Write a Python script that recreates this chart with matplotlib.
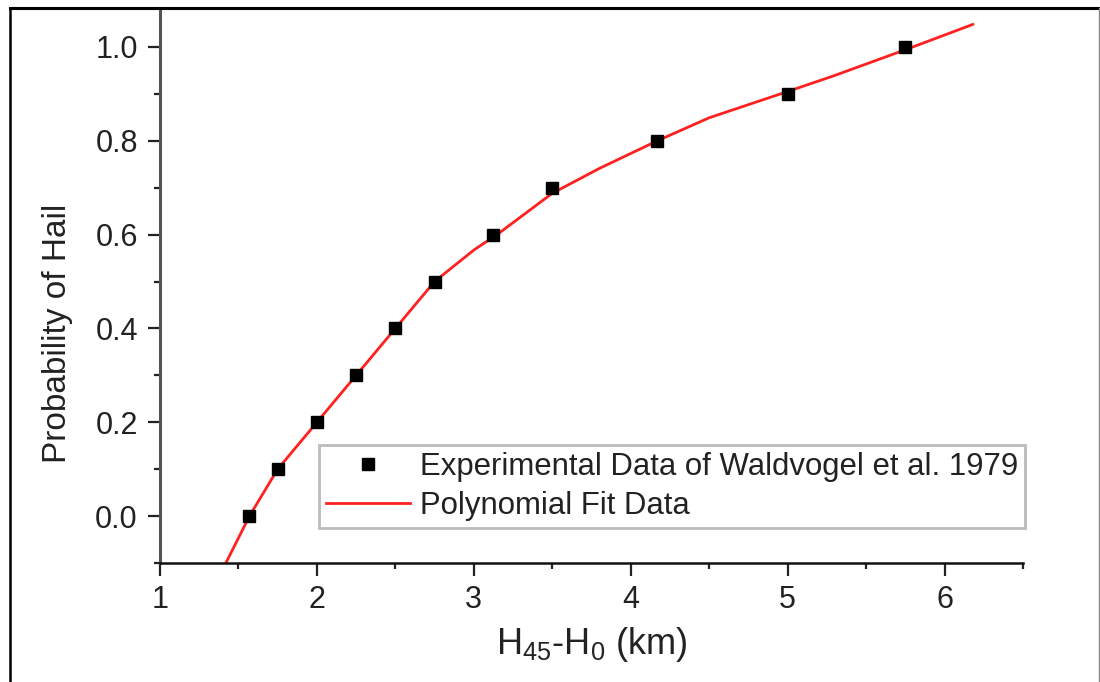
import matplotlib
matplotlib.use("Agg")
import matplotlib.pyplot as plt
from matplotlib.ticker import MultipleLocator
from matplotlib.lines import Line2D

plt.rcParams['font.family'] = ['Liberation Sans', 'DejaVu Sans']
plt.rcParams['mathtext.default'] = 'regular'

# Experimental data (Waldvogel et al. 1979)
exp_x = [1.57, 1.75, 2.0, 2.25, 2.5, 2.75, 3.12, 3.5, 4.17, 5.0, 5.75]
exp_y = [0.0, 0.1, 0.2, 0.3, 0.4, 0.5, 0.6, 0.7, 0.8, 0.9, 1.0]

# Polynomial fit curve
fit_x = [1.42, 1.57, 1.75, 2.0, 2.25, 2.5, 2.75, 3.0, 3.16, 3.5, 3.8, 4.17, 4.5, 5.0, 5.29, 5.75, 6.18]
fit_y = [-0.1, 0.0, 0.1, 0.2, 0.3, 0.4, 0.5, 0.567, 0.603, 0.688, 0.741, 0.80, 0.849, 0.905, 0.938, 0.994, 1.048]

W, H = 1100, 682
fig = plt.figure(figsize=(W / 100, H / 100), dpi=100)
ax = fig.add_axes([160 / W, (H - 563) / H, (1023 - 160) / W, (563 - 8) / H])

ax.plot(fit_x, fit_y, color='#ff2020', lw=2.0, label='Polynomial Fit Data', zorder=2)
ax.plot(exp_x, exp_y, ls='none', marker='s', ms=8.5, color='black',
        label='Experimental Data of Waldvogel et al. 1979', zorder=3)

ax.set_xlim(1, 6.5)
ax.set_ylim(-0.1, 1.083)
ax.xaxis.set_major_locator(MultipleLocator(1))
ax.xaxis.set_minor_locator(MultipleLocator(0.5))
ax.yaxis.set_minor_locator(MultipleLocator(0.1))
ax.set_yticks([0.0, 0.2, 0.4, 0.6, 0.8, 1.0])
ax.set_yticklabels(['0.0', '0.2', '0.4', '0.6', '0.8', '1.0'])

for s in ['top', 'right']:
    ax.spines[s].set_visible(False)
ax.spines['left'].set_color('#555555')
ax.spines['left'].set_linewidth(2.2)
ax.spines['bottom'].set_color('#111111')
ax.spines['bottom'].set_linewidth(1.8)

ax.tick_params(axis='both', which='major', direction='out', length=9, width=1.6,
               labelsize=22, pad=7, colors='#222222')
ax.tick_params(axis='both', which='minor', direction='out', length=4.5, width=1.6,
               colors='#222222')

ax.set_xlabel(r'H$_{45}$-H$_0$ (km)', fontsize=26, color='#222222')
ax.set_ylabel('Probability of Hail', fontsize=24, color='#222222')
ax.xaxis.set_label_coords(0.5, -0.112)
ax.yaxis.set_label_coords(-0.101, 0.414)

handles = [Line2D([], [], ls='none', marker='s', ms=8.5, color='black'),
           Line2D([], [], color='#ff2020', lw=2.0)]
labels = ['Experimental Data of Waldvogel et al. 1979', 'Polynomial Fit Data']
leg = ax.legend(handles, labels, loc='lower right', bbox_to_anchor=(1.002, 0.063),
                fontsize=22.4, frameon=True, fancybox=False, handlelength=2.7,
                handletextpad=0.3, labelspacing=0.3, borderpad=0.22, numpoints=1,
                borderaxespad=0)
leg.get_frame().set_edgecolor('#aaaaaa')
leg.get_frame().set_linewidth(2.0)
for t in leg.get_texts():
    t.set_color('#222222')

# Figure border
fig.add_artist(Line2D([10 / W, 10 / W], [0, (H - 8) / H], transform=fig.transFigure,
                      color='black', lw=1.8))
fig.add_artist(Line2D([10 / W, 1099 / W], [(H - 8) / H, (H - 8) / H], transform=fig.transFigure,
                      color='black', lw=2.2))
fig.add_artist(Line2D([1099 / W, 1099 / W], [0, (H - 8) / H], transform=fig.transFigure,
                      color='#888888', lw=1.0))

fig.savefig('out.png', dpi=100)
